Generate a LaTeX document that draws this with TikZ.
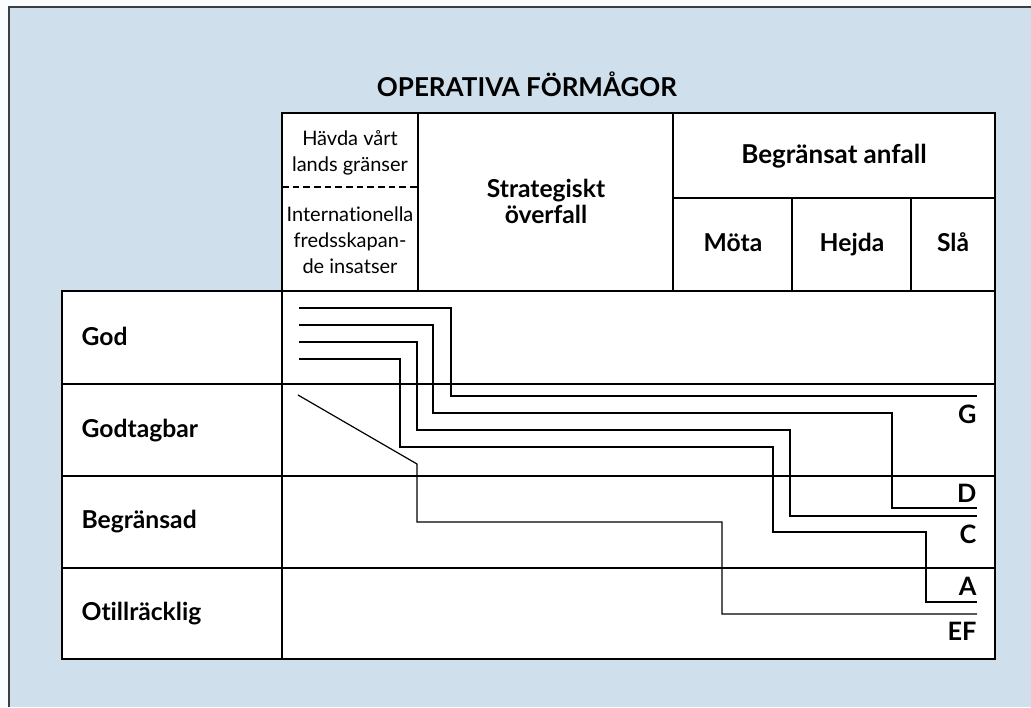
\documentclass[tikz,border=0pt]{standalone}
\usepackage{fontspec}
\setmainfont{Lato}[Ligatures=NoCommon]
\usetikzlibrary{positioning}
\definecolor{bgblue}{HTML}{CFE0EC}
\definecolor{framegray}{HTML}{3A3F44}
\begin{document}
\begin{tikzpicture}[x=0.75pt, y=-0.75pt, line width=0.9pt,
    title/.style={font=\bfseries\fontsize{19.5}{22}\selectfont, anchor=base},
    head/.style={font=\bfseries\fontsize{18.5}{19.5}\selectfont, align=center},
    small/.style={font=\fontsize{15}{19.5}\selectfont, align=center, inner sep=0pt},
    lbl/.style={font=\bfseries\fontsize{18.5}{19}\selectfont, anchor=base west, inner sep=0pt},
    tag/.style={font=\bfseries\fontsize{19}{19}\selectfont, anchor=base east, inner sep=0pt}]
                \useasboundingbox (0, 0) rectangle (1031, 707);
                \fill[white!92!bgblue] (0, 0) rectangle (1031, 707);
                \fill[bgblue] (9, 7) rectangle (1031, 707);
                \draw[framegray] (9, 707) -- (9, 7) -- (1031, 7);

                \node[title] (titel) at (527, 96) {OPERATIVA FÖRMÅGOR};

                % huvud
                \draw[fill=white] (282, 113) rectangle (995, 291);
                \draw (418, 113) -- (418, 291);
                \draw (673, 113) -- (673, 291);
                \draw (673, 198) -- (995, 198);
                \draw (792, 198) -- (792, 291);
                \draw (911, 198) -- (911, 291);
                \draw[dash pattern=on 5pt off 3pt] (282, 187) -- (418, 187);

                \node[small] (havda) at (350, 153) {Hävda vårt\\lands gränser};
                \node[small] (intl) at (350, 240) {Internationella\\fredsskapan-\\de insatser};
                \node[head] (strat) at (546, 201) {Strategiskt\\överfall};
                \node[head, anchor=base, font=\bfseries\fontsize{19.5}{20}\selectfont] (anfall) at (834, 163) {Begränsat anfall};
                \node[head, anchor=base] (mota) at (733, 251) {Möta};
                \node[head, anchor=base] (hejda) at (852, 251) {Hejda};
                \node[head, anchor=base] (sla) at (953, 251) {Slå};

                % nivaer
                \draw[fill=white] (62, 291) rectangle (995, 659);
                \draw (282, 291) -- (282, 659);
                \draw (62, 384) -- (995, 384);
                \draw (62, 476) -- (995, 476);
                \draw (62, 568) -- (995, 568);

                \node[lbl] (god) at (81, 345) {God};
                \node[lbl] (godtagbar) at (81, 437) {Godtagbar};
                \node[lbl] (begransad) at (81, 528) {Begränsad};
                \node[lbl] (otillracklig) at (81, 620) {Otillräcklig};

                % trappor
                \coordinate (endG) at (977, 396);
                \coordinate (endD) at (977, 508);
                \coordinate (endC) at (977, 516);
                \coordinate (endA) at (977, 602);
                \coordinate (endEF) at (977, 614);

                \draw (299, 308) -- (451, 308) -- (451, 396) -- (endG);
                \draw (299, 325) -- (433, 325) -- (433, 413) -- (892, 413) -- (892, 508) -- (endD);
                \draw (299, 342) -- (417, 342) -- (417, 430) -- (790, 430) -- (790, 516) -- (endC);
                \draw (299, 359) -- (400, 359) -- (400, 447) -- (773, 447) -- (773, 532) -- (926, 532) -- (926, 602) -- (endA);
                \draw (298, 395) -- (417, 464) -- (417, 522) -- (722, 522) -- (722, 614) -- (endEF);

                \node[tag] (tagG) at (977, 423) {G};
                \node[tag] (tagD) at (977, 502) {D};
                \node[tag] (tagC) at (977, 543) {C};
                \node[tag] (tagA) at (977, 595) {A};
                \node[tag] (tagEF) at (977, 640) {EF};
            \end{tikzpicture}
\end{document}
